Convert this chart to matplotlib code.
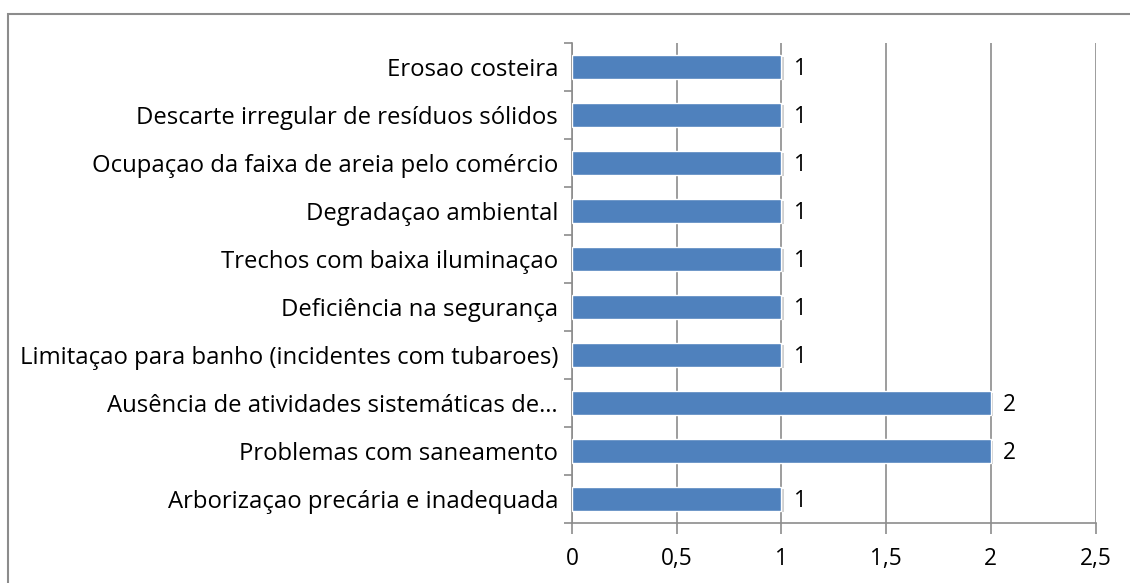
import numpy as np
import matplotlib.pyplot as plt
from matplotlib.patches import Rectangle

# Categories from bottom to top, with their counts
categories = [
    'Arborizaçao precária e inadequada',
    'Problemas com saneamento',
    'Ausência de atividades sistemáticas de…',
    'Limitaçao para banho (incidentes com tubaroes)',
    'Deficiência na segurança',
    'Trechos com baixa iluminaçao',
    'Degradaçao ambiental',
    'Ocupaçao da faixa de areia pelo comércio',
    'Descarte irregular de resíduos sólidos',
    'Erosao costeira',
]
values = [1, 2, 2, 1, 1, 1, 1, 1, 1, 1]
xticks = [0, 0.5, 1, 1.5, 2, 2.5]
xtick_labels = ['0', '0,5', '1', '1,5', '2', '2,5']

plt.rcParams['font.family'] = ['Open Sans', 'DejaVu Sans']
fs = 17.2

fig = plt.figure(figsize=(11.3, 5.83), dpi=100)
ax = fig.add_axes([572 / 1130, 1 - 523 / 583, (1095.5 - 572) / 1130, (523 - 43) / 583])

# outer chart frame (cut off at bottom and right like the reference)
fig.patches.append(Rectangle((8 / 1130, -0.05), 1.2, 1 - 14 / 583 + 0.05,
                             transform=fig.transFigure, fill=False,
                             edgecolor='#8c8c8c', linewidth=1.5))

y = np.arange(len(categories))
# soft shadow behind the bars
ax.barh(y - 0.04, values, height=0.48, left=0.012, color='#d0d0d0', zorder=2)
ax.barh(y, values, height=0.48, color='#4f81bd', edgecolor='white', linewidth=1.0, zorder=3)

for yi, v in zip(y, values):
    ax.text(v + 0.06, yi - 0.04, str(v), va='center', ha='left', fontsize=16.3, color='black')

ax.set_xlim(0, 2.5)
ax.set_ylim(-0.5, len(categories) - 0.5)
ax.set_xticks(xticks)
ax.set_xticklabels(xtick_labels, fontsize=16.3)
ax.set_yticks(y)
ax.set_yticklabels(categories, fontsize=fs)
ax.set_yticks(np.arange(-0.5, len(categories), 1), minor=True)

ax.tick_params(axis='y', which='major', length=0, pad=10)
ax.tick_params(axis='y', which='minor', length=6, color='#8c8c8c', width=1.2)
ax.tick_params(axis='x', length=8, color='#8c8c8c', width=1.2, pad=9)

ax.grid(axis='x', color='#8c8c8c', linewidth=1.2, zorder=0)
ax.set_axisbelow(True)
for side in ['top', 'right']:
    ax.spines[side].set_visible(False)
for side in ['left', 'bottom']:
    ax.spines[side].set_color('#8c8c8c')
    ax.spines[side].set_linewidth(1.2)

fig.savefig('out.png', dpi=100)
